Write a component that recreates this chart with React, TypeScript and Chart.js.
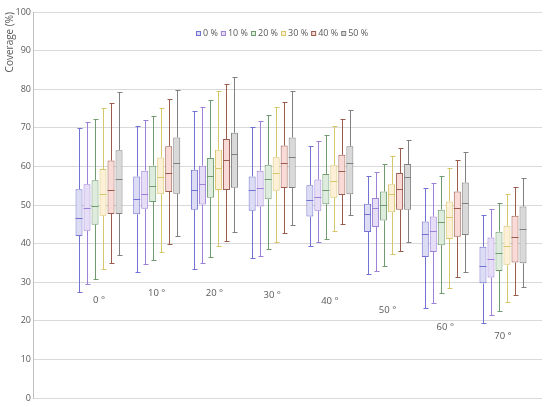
import React, { useEffect, useRef } from "react";
import { Chart, registerables } from "chart.js";

Chart.register(...registerables);

// Categories (angles) and series (percentages)
const categories = ["0 °", "10 °", "20 °", "30 °", "40 °", "50 °", "60 °", "70 °"];
const seriesLabels = ["0 %", "10 %", "20 %", "30 %", "40 %", "50 %"];

// Box statistics per category: [min, q1, median, q3, max]
const box0 = [
  [27.5, 42.0, 46.7, 54.1, 70.0],
  [32.7, 47.6, 51.5, 57.4, 70.4],
  [33.4, 48.8, 53.8, 59.1, 74.3],
  [36.2, 48.5, 53.8, 57.4, 70.1],
  [39.5, 47.0, 51.4, 55.1, 65.4],
  [32.1, 43.0, 47.7, 50.3, 57.4],
  [23.2, 36.5, 42.5, 45.7, 54.4],
  [19.4, 29.7, 34.3, 39.2, 47.5],
];
const box10 = [
  [29.5, 43.3, 49.2, 55.4, 71.4],
  [34.7, 49.0, 52.8, 58.9, 71.9],
  [34.9, 50.1, 55.5, 60.2, 75.4],
  [36.8, 49.6, 54.4, 58.9, 71.7],
  [40.3, 48.5, 52.2, 56.6, 66.7],
  [33.0, 44.3, 49.2, 51.8, 58.5],
  [24.7, 37.8, 43.3, 47.0, 55.8],
  [21.5, 31.2, 35.9, 41.6, 48.9],
];
const box20 = [
  [30.8, 44.9, 49.8, 56.4, 72.3],
  [35.8, 50.8, 55.0, 60.2, 73.0],
  [36.6, 51.9, 57.6, 62.2, 77.1],
  [38.5, 51.5, 56.8, 60.4, 73.4],
  [41.1, 50.2, 53.9, 58.0, 68.1],
  [34.2, 46.0, 50.0, 53.5, 60.7],
  [27.1, 39.6, 45.7, 48.8, 57.6],
  [22.5, 32.9, 37.5, 43.1, 50.6],
];
const box30 = [
  [33.4, 47.2, 52.8, 59.3, 75.2],
  [37.8, 52.8, 57.2, 62.3, 75.2],
  [39.4, 53.9, 59.6, 64.3, 79.5],
  [40.5, 53.7, 58.3, 62.4, 75.4],
  [43.3, 51.9, 56.1, 60.3, 70.4],
  [37.3, 48.1, 52.9, 55.4, 62.6],
  [28.4, 41.2, 47.0, 50.9, 59.6],
  [24.8, 34.5, 39.5, 44.6, 52.8],
];
const box40 = [
  [34.9, 47.7, 54.0, 61.5, 76.5],
  [39.8, 53.4, 58.3, 65.2, 77.5],
  [40.7, 53.9, 61.6, 67.1, 81.4],
  [42.7, 54.4, 60.9, 65.4, 76.7],
  [45.1, 52.6, 58.7, 63.0, 72.4],
  [38.2, 48.8, 54.2, 58.3, 64.8],
  [31.3, 41.8, 49.2, 53.5, 61.6],
  [26.7, 35.1, 41.6, 47.2, 54.6],
];
const box50 = [
  [37.1, 47.7, 56.8, 64.2, 79.3],
  [42.0, 52.9, 60.9, 67.5, 79.7],
  [42.9, 54.5, 63.2, 68.7, 83.2],
  [44.9, 54.4, 62.4, 67.5, 79.5],
  [47.3, 52.8, 60.9, 65.2, 74.5],
  [40.4, 48.8, 57.2, 60.6, 66.9],
  [32.7, 42.2, 50.6, 55.8, 63.7],
  [28.8, 34.9, 43.7, 49.6, 57.0],
];

const seriesStats = [box0, box10, box20, box30, box40, box50];

// Y axis ticks
const yMin = 0;
const yMax = 100;
const yStep = 10;

// Styles
const borderColors = ["#7272d2", "#9d80d8", "#6f9b6f", "#d6c66c", "#9a5c4c", "#808080"];
const fillColors = ["#dddcf5", "#e6ddf6", "#ddecdc", "#fdf0d6", "#f9dad6", "#d9d9d9"];
const TEXT_COLOR = "#595959";
const FONT = "'Open Sans', 'Noto Sans', sans-serif";

// Layout: vertical value (in axis units) at which each category caption sits
const captionLevels = [25.2, 27.1, 27.1, 26.7, 25.0, 22.6, 18.3, 16.1];

const whiskerPlugin = {
  id: "whiskers",
  beforeDatasetsDraw(chart: any) {
    const ctx = chart.ctx;
    const ys = chart.scales.y;
    ctx.save();
    ctx.lineWidth = 1;
    chart.data.datasets.forEach((_ds: any, di: number) => {
      const meta = chart.getDatasetMeta(di);
      const stats = seriesStats[di];
      ctx.strokeStyle = borderColors[di];
      meta.data.forEach((bar: any, gi: number) => {
        const [mn, q1, , q3, mx] = stats[gi];
        const x = Math.round(bar.x) + 0.5;
        const yMx = Math.round(ys.getPixelForValue(mx)) + 0.5;
        const yQ3 = ys.getPixelForValue(q3);
        const yQ1 = ys.getPixelForValue(q1);
        const yMn = Math.round(ys.getPixelForValue(mn)) + 0.5;
        ctx.beginPath();
        ctx.moveTo(x, yMx);
        ctx.lineTo(x, yQ3);
        ctx.moveTo(x, yQ1);
        ctx.lineTo(x, yMn);
        ctx.moveTo(x - 2, yMx);
        ctx.lineTo(x + 3, yMx);
        ctx.moveTo(x - 2, yMn);
        ctx.lineTo(x + 3, yMn);
        ctx.stroke();
      });
    });
    ctx.restore();
  },
  afterDatasetsDraw(chart: any) {
    const ctx = chart.ctx;
    const ys = chart.scales.y;
    ctx.save();
    ctx.lineWidth = 1;
    chart.data.datasets.forEach((_ds: any, di: number) => {
      const meta = chart.getDatasetMeta(di);
      const stats = seriesStats[di];
      ctx.strokeStyle = borderColors[di];
      meta.data.forEach((bar: any, gi: number) => {
        const md = stats[gi][2];
        const half = bar.width / 2;
        const y = Math.round(ys.getPixelForValue(md)) + 0.5;
        ctx.beginPath();
        ctx.moveTo(bar.x - half, y);
        ctx.lineTo(bar.x + half, y);
        ctx.stroke();
      });
    });
    ctx.restore();
  },
  afterDraw(chart: any) {
    const ctx = chart.ctx;
    const xs = chart.scales.x;
    const ys = chart.scales.y;
    ctx.save();
    // category captions
    ctx.font = `9.5px ${FONT}`;
    ctx.fillStyle = TEXT_COLOR;
    ctx.textAlign = "center";
    ctx.textBaseline = "middle";
    categories.forEach((c, gi) => {
      ctx.fillText(c, xs.getPixelForValue(gi), ys.getPixelForValue(captionLevels[gi]));
    });
    // legend
    ctx.font = `9px ${FONT}`;
    const box = 4;
    const gap = 2;
    const spacing = 4;
    ctx.textAlign = "left";
    const widths = chart.data.datasets.map((ds: any) => ctx.measureText(ds.label).width);
    const total =
      widths.reduce((a: number, w: number) => a + w + box + gap, 0) + spacing * (widths.length - 1);
    let x = Math.round(281.5 - total / 2);
    const ly = 33;
    chart.data.datasets.forEach((ds: any, di: number) => {
      ctx.fillStyle = fillColors[di];
      ctx.fillRect(x, ly - 2, box, box);
      ctx.strokeStyle = borderColors[di];
      ctx.lineWidth = 1;
      ctx.strokeRect(x + 0.5, ly - 2 + 0.5, box, box);
      ctx.fillStyle = TEXT_COLOR;
      ctx.fillText(ds.label, x + box + gap + 1, ly + 0.5);
      x += box + gap + widths[di] + spacing;
    });
    ctx.restore();
  },
};

export default function App() {
  const canvasRef = useRef<HTMLCanvasElement | null>(null);

  useEffect(() => {
    const canvas = canvasRef.current;
    if (!canvas) return;
    const chart = new Chart(canvas, {
      type: "bar",
      data: {
        datasets: seriesLabels.map((label, di) => ({
          label,
          data: seriesStats[di].map((b, gi) => ({ x: gi, y: [b[1], b[3]] })),
          backgroundColor: fillColors[di],
          borderColor: borderColors[di],
          borderWidth: 1,
          borderSkipped: false,
          categoryPercentage: 0.832,
          barPercentage: 0.875,
        })),
      },
      options: {
        animation: false,
        responsive: false,
        devicePixelRatio: 1,
        layout: { padding: { top: 12, right: 8, bottom: 9, left: 0 } },
        plugins: {
          legend: { display: false },
          tooltip: { enabled: false },
        },
        scales: {
          x: {
            type: "linear",
            display: false,
            min: -1.144,
            max: 7.676,
            offset: false,
            ticks: { stepSize: 1, includeBounds: false },
            grid: { display: false },
          },
          y: {
            min: yMin,
            max: yMax,
            afterFit(scale: any) {
              scale.width = 33;
            },
            ticks: {
              stepSize: yStep,
              color: TEXT_COLOR,
              font: { family: FONT, size: 9 },
              padding: 2,
            },
            grid: { color: "#d9d9d9", drawTicks: false },
            border: { color: "#bfbfbf" },
            title: {
              display: true,
              text: "Coverage (%)",
              align: "end",
              color: TEXT_COLOR,
              font: { family: FONT, size: 10 },
              padding: { top: 4, bottom: 0 },
            },
          },
        },
      } as any,
      plugins: [whiskerPlugin],
    });
    return () => chart.destroy();
  }, []);

  return (
    <div style={{ position: "absolute", left: 0, top: 0, width: 550, height: 407 }}>
      <canvas ref={canvasRef} width={550} height={407} style={{ width: 550, height: 407 }} />
    </div>
  );
}
